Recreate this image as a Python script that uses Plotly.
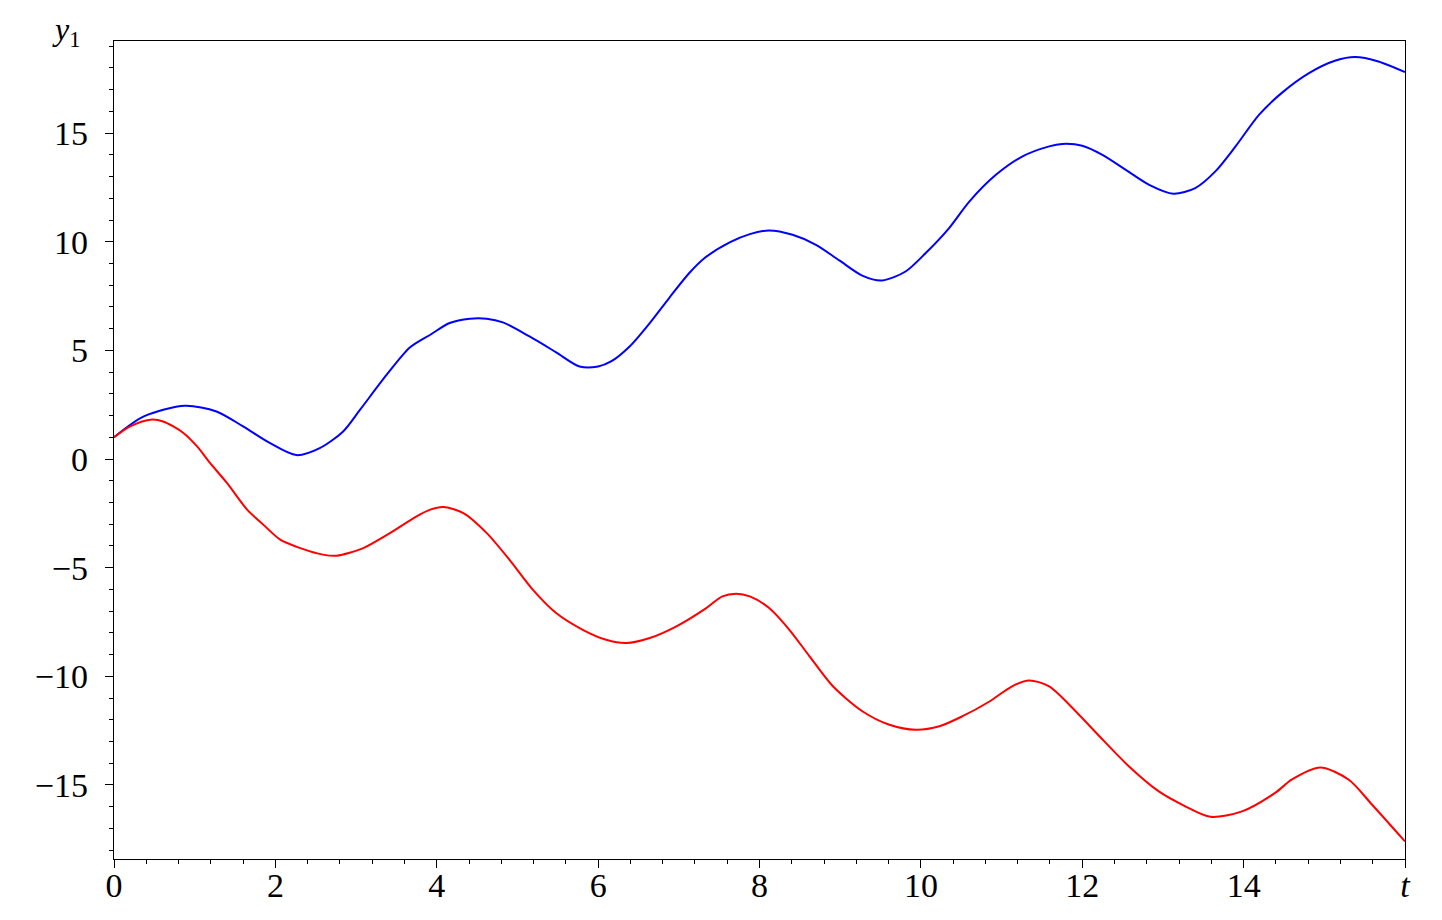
import plotly.graph_objects as go

FONT = "Liberation Serif, DejaVu Serif, serif"

# y1(t), upper (blue) solution
t_blue = [0.0, 0.37, 0.88, 1.27, 1.60, 1.93, 2.26, 2.55, 2.84, 3.05, 3.38, 3.67,
          3.92, 4.16, 4.41, 4.62, 4.82, 5.15, 5.48, 5.77, 6.0, 6.16, 6.39, 6.64,
          6.88, 7.13, 7.32, 7.63, 7.88, 8.12, 8.41, 8.70, 8.99, 9.28, 9.52, 9.81,
          10.06, 10.35, 10.60, 10.93, 11.26, 11.59, 11.75, 12.0, 12.25, 12.54,
          12.83, 13.13, 13.40, 13.65, 13.90, 14.19, 14.47, 14.81, 15.14, 15.38,
          15.67, 16.0]
y_blue = [1.0, 1.96, 2.45, 2.19, 1.50, 0.74, 0.18, 0.50, 1.27, 2.27, 3.88, 5.14,
          5.72, 6.26, 6.46, 6.46, 6.29, 5.64, 4.91, 4.26, 4.26, 4.49, 5.18, 6.26,
          7.41, 8.56, 9.25, 9.97, 10.35, 10.52, 10.32, 9.86, 9.14, 8.43, 8.22, 8.63,
          9.48, 10.63, 11.85, 13.08, 13.93, 14.39, 14.50, 14.42, 14.0, 13.31,
          12.62, 12.21, 12.47, 13.24, 14.39, 15.84, 16.84, 17.76, 18.34, 18.50,
          18.30, 17.81]

# y1(t), lower (red) solution
t_red = [0.0, 0.20, 0.45, 0.61, 0.86, 1.03, 1.19, 1.40, 1.65, 1.85, 2.06, 2.31,
         2.59, 2.76, 3.09, 3.42, 3.75, 3.92, 4.08, 4.33, 4.62, 4.90, 5.19, 5.48,
         5.81, 6.10, 6.35, 6.64, 6.97, 7.34, 7.54, 7.71, 7.88, 8.12, 8.37, 8.62,
         8.91, 9.28, 9.61, 9.94, 10.23, 10.51, 10.85, 11.13, 11.34, 11.59, 11.96,
         12.21, 12.58, 12.95, 13.26, 13.59, 13.98, 14.39, 14.60, 14.95, 15.30,
         15.59, 16.0]
y_red = [1.0, 1.50, 1.81, 1.73, 1.20, 0.58, -0.18, -1.10, -2.33, -3.02, -3.71, -4.10,
         -4.40, -4.45, -4.10, -3.41, -2.64, -2.33, -2.21, -2.49, -3.41, -4.63, -6.01,
         -7.09, -7.86, -8.32, -8.47, -8.24, -7.70, -6.86, -6.32, -6.20, -6.32, -6.86,
         -7.86, -9.08, -10.46, -11.62, -12.23, -12.46, -12.30, -11.85, -11.16, -10.46,
         -10.19, -10.46, -11.77, -12.75, -14.15, -15.30, -15.95, -16.47, -16.22,
         -15.37, -14.75, -14.20, -14.75, -15.90, -17.60]

x_ticks = [0, 2, 4, 6, 8, 10, 12, 14, 16]
x_labels = ["0", "2", "4", "6", "8", "10", "12", "14", "<i>t</i>"]
y_ticks = [-15, -10, -5, 0, 5, 10, 15]

fig = go.Figure()
fig.add_trace(go.Scatter(x=t_blue, y=y_blue, mode="lines",
                         line=dict(color="#0000ff", width=2, shape="spline", smoothing=0.8)))
fig.add_trace(go.Scatter(x=t_red, y=y_red, mode="lines",
                         line=dict(color="#ff0000", width=2, shape="spline", smoothing=0.8)))

axis_common = dict(
    showgrid=False, zeroline=False, automargin=False,
    showline=True, linecolor="black", linewidth=1.3, mirror=True,
    ticks="outside", ticklen=8, tickwidth=1.2, tickcolor="black",
    tickfont=dict(family=FONT, size=34, color="black"),
)

# page body has an 8px margin, so the figure is sized to fit inside it
fig.update_layout(
    width=1426, height=904,
    paper_bgcolor="white", plot_bgcolor="white",
    margin=dict(l=106, r=29, t=33, b=53),
    showlegend=False,
    xaxis=dict(range=[0, 16], tickvals=x_ticks, ticktext=x_labels, ticklabelstandoff=-12,
               minor=dict(dtick=0.4, tick0=0, ticks="outside", ticklen=4, tickcolor="black"),
               **axis_common),
    yaxis=dict(range=[-18.41, 19.24], tickvals=y_ticks, ticklabelstandoff=10,
               minor=dict(dtick=1, tick0=0, ticks="outside", ticklen=4, tickcolor="black"),
               **axis_common),
)

# axis name sits above the y axis, top-left
fig.add_annotation(x=-0.037, y=1.0385, xref="paper", yref="paper",
                   text="<i>y</i><sub>1</sub>", showarrow=False, borderpad=0,
                   xanchor="center", yanchor="top",
                   font=dict(family=FONT, size=32, color="black"))

fig.write_html("out.html")
